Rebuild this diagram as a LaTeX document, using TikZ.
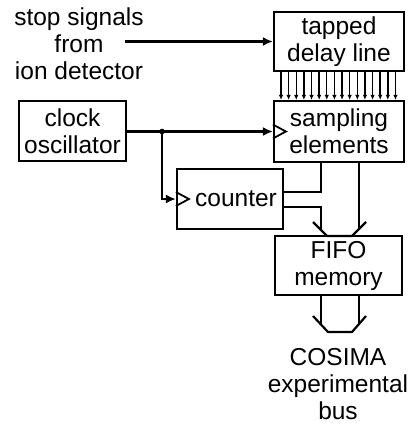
\documentclass[tikz,border=0pt]{standalone}
\usepackage{fontspec}
\setmainfont{Liberation Sans}
\usetikzlibrary{arrows.meta,calc}
\begin{document}
\begin{tikzpicture}[x=1pt,y=-1pt,
  every node/.style={font=\fontsize{24.5}{27}\selectfont, align=center, inner sep=0pt},
  box/.style={draw, line width=2.2pt, rectangle},
  wire/.style={line width=2.2pt},
  arr/.style={line width=2.2pt, -{Latex[length=10pt,width=9pt]}},
  tap/.style={line width=1.4pt, -{Latex[length=5pt,width=4.5pt]}},
  clk/.style={line width=1.8pt}]
\useasboundingbox (0,0) rectangle (412,425);
% boxes
\node[box, minimum width=130pt, minimum height=59pt] (tdl) at (339,41.5) {tapped\\delay line};
\node[box, minimum width=130pt, minimum height=61pt] (samp) at (339,131.5) {sampling\\elements};
\node[box, minimum width=107pt, minimum height=60pt] (osc) at (72.5,131) {clock\\oscillator};
\node[box, minimum width=106pt, minimum height=60pt] (cnt) at (230,199) {\hspace{12pt}counter};
\node[box, minimum width=127pt, minimum height=59pt] (fifo) at (338.5,265.5) {FIFO\\memory};
% free texts
\node (stop) at (79,44) {stop signals\\from\\ion detector};
\node (bus) at (338,384) {COSIMA\\experimental\\bus};
% stop signals arrow
\coordinate (s0) at (125,41.5);
\draw[arr] (s0) -- (tdl.west);
% taps
\foreach \i in {0,...,15}{
  \draw[tap] (tdl.south -| {281+7.63*\i},0) -- (samp.north -| {281+7.63*\i},0);
}
% clock
\coordinate (j) at (162,131.5);
\draw[arr] (osc.east |- j) -- (samp.west |- j);
\fill (j) circle (2.8pt);
\draw[arr] (j) |- (cnt.west);
\draw[clk] ($(samp.west)+(0,-7)$) -- ++(13,7) -- ++(-13,7);
\draw[clk] ($(cnt.west)+(0,-7)$) -- ++(13,7) -- ++(-13,7);
% sampling to counter
\coordinate (bl) at (321,162);
\coordinate (br) at (359,162);
\draw[wire] (bl) |- ($(cnt.east)+(0,-7)$);
\draw[wire] ($(cnt.east)+(0,8)$) -| (321,230);
\draw[wire] (br) -- (359,229);
\draw[wire, line join=round] (313,222) -- (327,236) -- (352,236) -- (366,222);
% FIFO to bus
\draw[wire] (fifo.south -| 321,0) -- (321,324.5);
\draw[wire] (fifo.south -| 359,0) -- (359,324);
\draw[wire, line join=round] (313,316) -- (328,332) -- (352,332) -- (366,316);
\end{tikzpicture}
\end{document}
